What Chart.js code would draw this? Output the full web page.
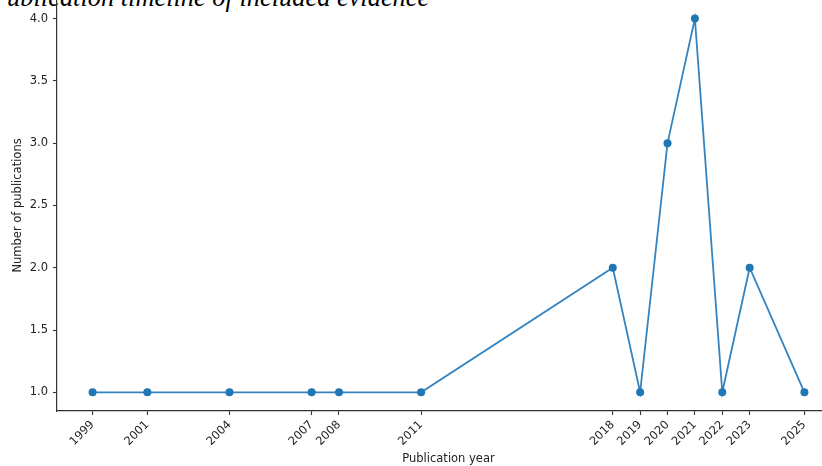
<!DOCTYPE html>
<html>
<head>
<meta charset="utf-8">
<script src="https://cdn.jsdelivr.net/npm/chart.js@4/dist/chart.umd.min.js"></script>
<style>
  html, body { margin: 0; padding: 0; background: #fff; overflow: hidden; width: 822px; height: 466px; }
  #title {
    position: absolute; left: -9px; top: -16px;
    font: italic 26.4px "Liberation Serif", "DejaVu Serif", serif;
    line-height: 26px; color: #000; white-space: nowrap;
  }
  #wrap { position: absolute; left: 0; top: -12px; width: 844px; height: 478px; }
</style>
</head>
<body>
<div id="title">Publication timeline of included evidence</div>
<div id="wrap"><canvas id="chart"></canvas></div>
<script>
// Publications per year
const years = [1999, 2001, 2004, 2007, 2008, 2011, 2018, 2019, 2020, 2021, 2022, 2023, 2025];
const counts = [1, 1, 1, 1, 1, 1, 2, 1, 3, 4, 1, 2, 1];
const yTickValues = [1.0, 1.5, 2.0, 2.5, 3.0, 3.5, 4.0];

const axisColor = '#333';
const tickFont = { family: 'DejaVu Sans', size: 11.5 };

// 5% margin on each side of the data range
const xSpan = years[years.length - 1] - years[0];
const ySpan = Math.max(...counts) - Math.min(...counts);

new Chart(document.getElementById('chart'), {
  type: 'line',
  data: {
    datasets: [{
      data: years.map((y, i) => ({ x: y, y: counts[i] })),
      borderColor: '#3584c0',
      borderWidth: 1.8,
      pointBackgroundColor: '#1f77b4',
      pointBorderWidth: 0,
      pointRadius: 4,
      tension: 0,
      fill: false
    }]
  },
  options: {
    responsive: true,
    maintainAspectRatio: false,
    animation: false,
    layout: { padding: { top: 0, right: 0, bottom: 0, left: 0 } },
    plugins: { legend: { display: false }, tooltip: { enabled: false }, title: { display: false } },
    scales: {
      x: {
        type: 'linear',
        min: years[0] - 0.05 * xSpan,
        max: years[years.length - 1] + 0.05 * xSpan,
        afterBuildTicks: s => { s.ticks = years.map(v => ({ value: v })); },
        afterFit: s => { s.height = 55; },
        border: { display: true, color: axisColor, width: 1.2 },
        grid: { display: true, drawOnChartArea: false, drawTicks: true, tickLength: 4, color: axisColor, tickWidth: 1.1 },
        ticks: {
          autoSkip: false, minRotation: 45, maxRotation: 45, padding: 3,
          color: '#222', font: tickFont,
          callback: v => String(v)
        },
        title: { display: true, text: 'Publication year', color: '#222', font: tickFont, padding: { top: 0, bottom: 0 } }
      },
      y: {
        type: 'linear',
        min: Math.min(...counts) - 0.05 * ySpan,
        max: Math.max(...counts) + 0.05 * ySpan,
        afterBuildTicks: s => { s.ticks = yTickValues.map(v => ({ value: v })); },
        afterFit: s => { s.width = 57; },
        border: { display: true, color: axisColor, width: 1.2 },
        grid: { display: true, drawOnChartArea: false, drawTicks: true, tickLength: 4, color: axisColor, tickWidth: 1.1 },
        ticks: { padding: 5, color: '#222', font: tickFont, callback: v => v.toFixed(1) },
        title: { display: true, text: 'Number of publications', color: '#222', font: tickFont, padding: { top: 11, bottom: 0 } }
      }
    }
  }
});
</script>
</body>
</html>
